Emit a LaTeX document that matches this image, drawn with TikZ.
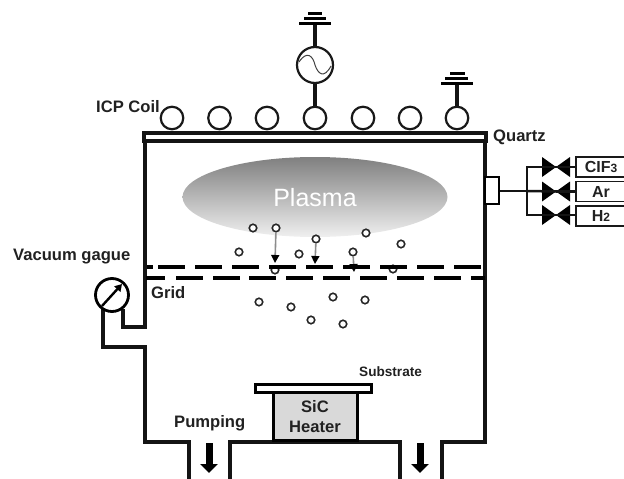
\documentclass[tikz,border=0pt]{standalone}
\usepackage{fontspec}
\setmainfont{Liberation Sans}
\usetikzlibrary{arrows.meta,shapes.geometric}
\definecolor{txt}{gray}{0.13}
\tikzset{
  wall/.style={line width=3.1pt,line join=miter,draw=black!92},
  pipe/.style={line width=2.5pt,line join=miter,draw=black!92},
  coil/.style={circle,draw=black!90,line width=2.2pt,minimum size=22.5pt,inner sep=0,fill=white},
  ion/.style={circle,draw=black!85,line width=1.6pt,minimum size=7.5pt,inner sep=0,fill=white},
  lab/.style={font=\bfseries\fontsize{16.6}{18}\selectfont,text=txt,inner sep=0},
  gas/.style={draw=black!90,line width=1.8pt,fill=white,minimum width=50pt,minimum height=20pt,inner sep=0,font=\bfseries\fontsize{16}{18}\selectfont,text=txt},
  bar/.style={line width=3pt,draw=black},
  ionarrow/.style={draw=black!45,line width=1.6pt,-{Triangle[length=8pt,width=8pt,black]}},
  bigarrow/.style={line width=7pt,draw=black,-{Triangle[length=9pt,width=17pt,black]}},
  griddash/.style={line width=3.3pt,draw=black},
}
\begin{document}
\begin{tikzpicture}[x=1pt,y=-1pt]
\useasboundingbox (0,0) rectangle (624,479);
% plasma
\node[ellipse,minimum width=265pt,minimum height=80pt,inner sep=0,top color=black!50,bottom color=black!6] (plasma) at (315,197) {};
\node[font=\fontsize{25}{28}\selectfont,text=white,inner sep=0] (plasmatext) at (315,198) {Plasma};
% coordinates of chamber
\coordinate (qtl) at (144,133);
\coordinate (qbr) at (486,141);
\coordinate (wa) at (145,141);
\coordinate (wb) at (145,327);
\coordinate (wc) at (123,327);
\coordinate (wd) at (123,309);
\coordinate (we) at (103,309);
\coordinate (wf) at (103,347);
\coordinate (wg) at (145,347);
\coordinate (wh) at (145,442);
\coordinate (p1a) at (189,442);
\coordinate (p1b) at (189,479);
\coordinate (p1c) at (230,479);
\coordinate (p1d) at (230,442);
\coordinate (p2a) at (400,442);
\coordinate (p2b) at (400,479);
\coordinate (p2c) at (442,479);
\coordinate (p2d) at (442,442);
\coordinate (we2) at (485,442);
\coordinate (we3) at (485,141);
% quartz
\draw[wall,fill=white] (qtl) rectangle (qbr);
% chamber outline
\draw[wall] (wa) -- (wb) -- (wc) -- (wd);
\draw[wall] (we) -- (wf) -- (wg) -- (wh) -- (p1a) -- (p1b);
\draw[wall] (p1c) -- (p1d) -- (p2a) -- (p2b);
\draw[wall] (p2c) -- (p2d) -- (we2) -- (we3);
\draw[black!40,line width=1pt] (p1b) -- (p1c) (p2b) -- (p2c);
% gauge
\node[circle,draw=black,line width=2.8pt,minimum size=33pt,inner sep=0,fill=white] (gauge) at (112,295) {};
\coordinate (ga) at (102,306);
\coordinate (gb) at (122,284);
\draw[line width=2.4pt,-{Triangle[length=7pt,width=8pt]}] (ga) -- (gb);
% coils
\foreach \n/\x in {c1/172,c2/219.5,c3/267,c4/315,c5/363,c6/410,c7/457}{
  \node[coil] (\n) at (\x,118) {};
}
% rf source
\node[circle,draw=black!90,line width=2.2pt,minimum size=36pt,inner sep=0] (rf) at (315,65) {};
\draw[line width=1pt,black!75] (299,62) .. controls (307,50) and (313,56) .. (315,65) .. controls (318,74) and (324,79) .. (331,66);
\coordinate (g1) at (315,23);
\coordinate (g2) at (457,83);
\draw[wall] (c4) -- (rf);
\draw[wall] (rf) -- (g1);
\draw[wall] (c7) -- (g2);
\draw[bar] (299,23) -- (331,23) (304,18) -- (326,18) (308,13.5) -- (322,13.5);
\draw[bar] (441,83) -- (473,83) (445,78) -- (468,78) (450,73.5) -- (465,73.5);
% port + gas lines
\node[draw=black,line width=2.6pt,fill=white,minimum width=14pt,minimum height=27pt,inner sep=0] (port) at (492,190.5) {};
\coordinate (j) at (527,191);
\node[gas] (cif) at (601,167) {CIF\fontsize{12}{12}\selectfont 3};
\node[gas] (ar) at (601,191.5) {Ar};
\node[gas] (h) at (601,216) {H\fontsize{12}{12}\selectfont 2};
\foreach \n/\y in {v1/167,v2/191.5,v3/215}{
  \coordinate (\n) at (556,\y);
  \fill[black] (542,\y-10) -- (556,\y) -- (542,\y+10) -- cycle;
  \fill[black] (570,\y-10) -- (556,\y) -- (570,\y+10) -- cycle;
}
\draw[pipe] (port.east |- j) -- (j);
\draw[pipe] (j) -- (v2);
\draw[pipe,line cap=rect] (j |- v1) -- (j |- v3);
\draw[pipe] (j |- v1) -- (v1);
\draw[pipe] (j |- v3) -- (v3);
\draw[pipe] (v1) -- (cif.west |- v1);
\draw[pipe] (v2) -- (ar.west |- v2);
\draw[pipe] (v3) -- (h.west |- v3);
% heater + substrate
\node[draw=black,line width=3pt,fill=black!15,minimum width=84pt,minimum height=50pt,inner sep=0,anchor=south] (heater) at (315,442) {};
\node[draw=black,line width=2.8pt,fill=white,minimum width=116pt,minimum height=8pt,inner sep=0] (sub) at (313.5,388.5) {};
\node[lab] (sic) at (315,407) {SiC};
\node[lab] (heat) at (315,427) {Heater};
% ions
\foreach \n/\x/\y in {i1/253/228,i2/276/228,i3/316/239,i4/366/233,i5/401/244,i6/239/252,i7/299/254,i8/353/252,i9/275/270,i10/393/269,i11/259/302,i12/291/307,i13/333/297,i14/365/300,i15/311/320,i16/343/324}{
  \node[ion] (\n) at (\x,\y) {};
}
\coordinate (t1) at (275,263);
\coordinate (t2) at (315,264);
\coordinate (t3) at (354,272);
\draw[ionarrow] (i2) -- (t1);
\draw[ionarrow] (i3) -- (t2);
\draw[ionarrow] (i8) -- (t3);
% grids
\draw[griddash] (147,267) -- (153,267);
\foreach \x in {158,195,232,269,306,343,380,417,454}{
  \draw[griddash] (\x,267) -- ++(27,0);
}
\draw[griddash] (146,278) -- (165,278);
\foreach \x in {176,213,249,286,323,360,397,434}{
  \draw[griddash] (\x,278) -- ++(27,0);
}
\draw[griddash] (471,278) -- (485,278);
% pumping arrows
\coordinate (a1) at (209,443);
\coordinate (a2) at (209,473);
\coordinate (b1) at (420,443);
\coordinate (b2) at (420,473);
\draw[bigarrow] (a1) -- (a2);
\draw[bigarrow] (b1) -- (b2);
% labels
\node[lab,anchor=west] (icp) at (96,107) {ICP Coil};
\node[lab,anchor=west] (quartz) at (493,137) {Quartz};
\node[lab,anchor=west] (vac) at (13,257) {Vacuum gague};
\node[lab,anchor=west] (grid) at (151,293) {Grid};
\node[lab,anchor=west,font=\bfseries\fontsize{13.6}{15}\selectfont] (substrate) at (359,372) {Substrate};
\node[lab,anchor=west] (pump) at (174,423) {Pumping};
\end{tikzpicture}
\end{document}
